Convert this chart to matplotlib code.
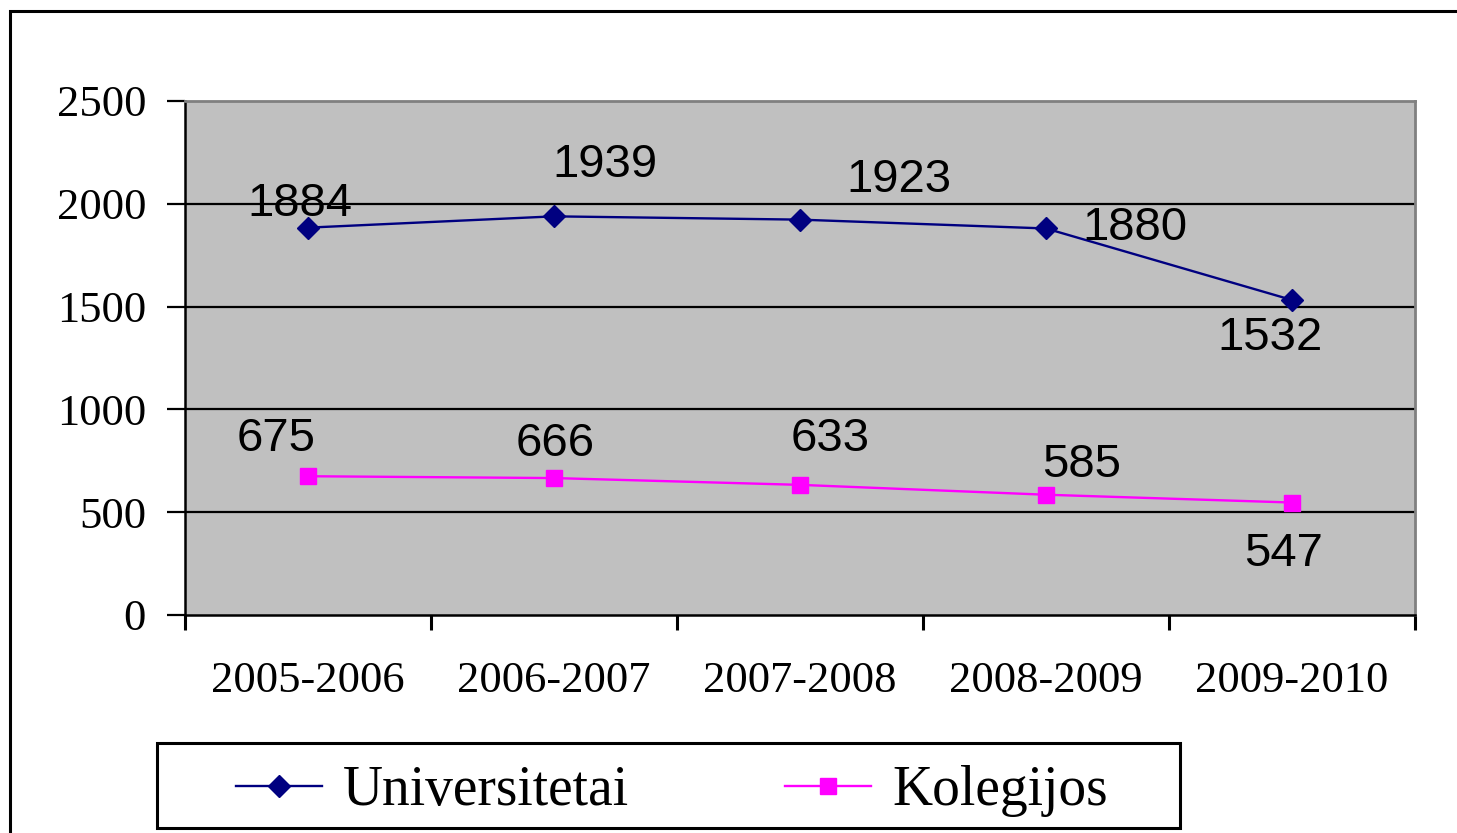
import matplotlib
matplotlib.use("Agg")
import matplotlib.pyplot as plt
from matplotlib.patches import Rectangle

years = ["2005-2006", "2006-2007", "2007-2008", "2008-2009", "2009-2010"]
universitetai = [1884, 1939, 1923, 1880, 1532]
kolegijos = [675, 666, 633, 585, 547]
yticks = [0, 500, 1000, 1500, 2000, 2500]

# label offsets (pixels) relative to the points
u_off = [(-8, 24), (51, 51), (99, 40), (89, 0), (-22, -38)]
k_off = [(-32, 37), (1, 34), (30, 46), (36, 30), (-8, -51)]

W, H = 1457, 833
fig = plt.figure(figsize=(W / 100, H / 100), dpi=100)
fig.patch.set_facecolor("white")

# outer frame
fig.patches.append(Rectangle((10 / W, -0.1), 1.2, (H - 11) / H + 0.1,
                             transform=fig.transFigure, fill=False,
                             edgecolor="black", linewidth=2.2, zorder=0))

ax = fig.add_axes([185 / W, (H - 615) / H, (1415 - 185) / W, (615 - 101) / H])
ax.set_facecolor("#C0C0C0")

x = list(range(len(years)))
ax.plot(x, universitetai, color="#000080", lw=1.7, marker="D", ms=11,
        markeredgecolor="#000080", label="Universitetai", zorder=3, clip_on=False)
ax.plot(x, kolegijos, color="#FF00FF", lw=1.7, marker="s", ms=12,
        markeredgecolor="#FF00FF", label="Kolegijos", zorder=3, clip_on=False)

lab_font = dict(family="Liberation Sans", size=34, color="black")
for xi, v, (dx, dy) in zip(x, universitetai, u_off):
    ax.annotate(str(v), (xi, v), xytext=(dx, dy), textcoords="offset pixels",
                ha="center", va="center", zorder=4, **lab_font)
for xi, v, (dx, dy) in zip(x, kolegijos, k_off):
    ax.annotate(str(v), (xi, v), xytext=(dx, dy), textcoords="offset pixels",
                ha="center", va="center", zorder=4, **lab_font)

ax.set_xlim(-0.5, len(years) - 0.5)
ax.set_ylim(0, 2500)
ax.set_yticks(yticks)
ax.set_yticklabels([str(t) for t in yticks], family="Liberation Serif", fontsize=32)
for t in yticks[1:-1]:
    ax.axhline(t, color="black", lw=1.6, zorder=1)

ax.set_xticks([i - 0.5 for i in range(len(years) + 1)])
ax.set_xticklabels([])
ax.set_xticks(x, minor=True)
ax.set_xticklabels(years, minor=True, family="Liberation Serif", fontsize=32)
ax.tick_params(axis="x", which="minor", length=0, pad=33)
ax.tick_params(axis="x", which="major", length=11, width=2.2, direction="out")
ax.tick_params(axis="y", length=13, width=1.6, direction="out", pad=15)

ax.spines["left"].set_color("black")
ax.spines["left"].set_linewidth(1.8)
ax.spines["bottom"].set_color("black")
ax.spines["bottom"].set_linewidth(1.8)
ax.spines["top"].set_color("#808080")
ax.spines["top"].set_linewidth(2)
ax.spines["right"].set_color("#808080")
ax.spines["right"].set_linewidth(2)

# legend box
fig.patches.append(Rectangle((157 / W, (H - 828) / H), (1180 - 157) / W, (828 - 743) / H,
                             transform=fig.transFigure, fill=False,
                             edgecolor="black", linewidth=2.2, zorder=5))
leg = fig.legend(loc="center", bbox_to_anchor=(672 / W, (H - 791) / H),
                 ncol=2, frameon=False,
                 prop=dict(family="Liberation Serif", size=40),
                 handlelength=1.55, handletextpad=0.38, columnspacing=2.8,
                 borderpad=0.1, borderaxespad=0)

fig.savefig("out.png", dpi=100)
